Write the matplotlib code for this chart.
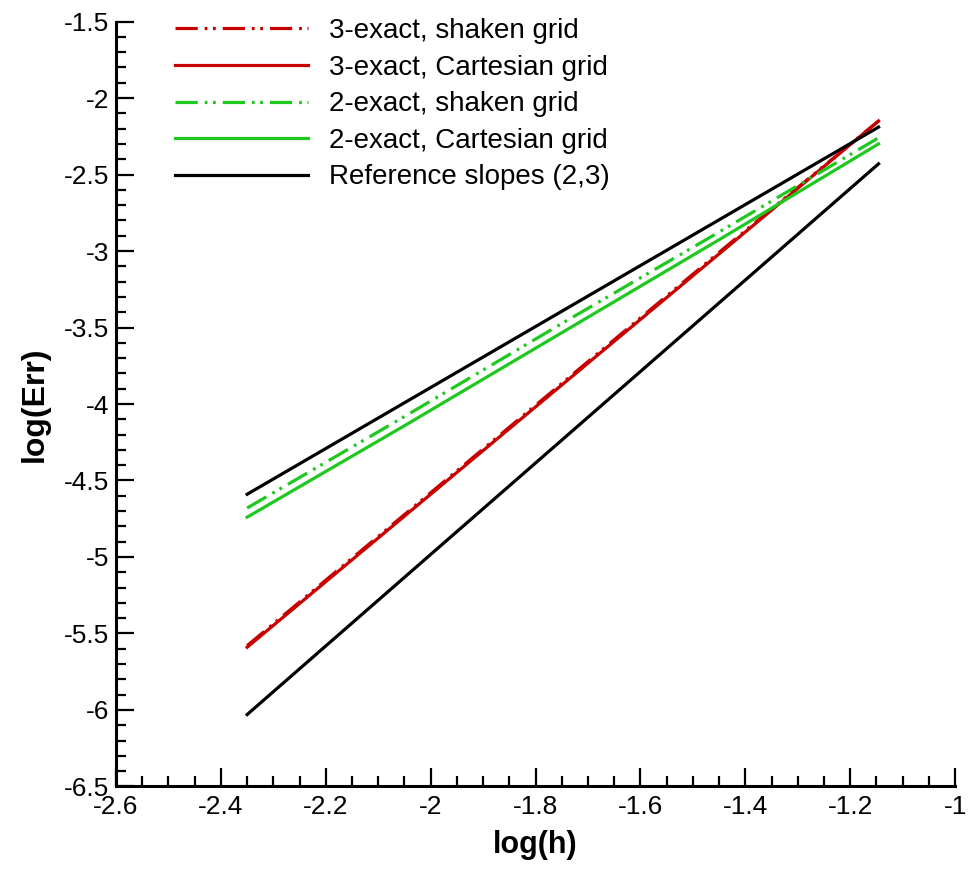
import numpy as np
import matplotlib.pyplot as plt
from matplotlib.ticker import MultipleLocator

# log10 of mesh size h = 1/14 ... 1/224
log_h = [-2.350, -2.049, -1.748, -1.447, -1.146]

# log10 of error
err_3_shaken = [-5.58, -4.72, -3.86, -3.00, -2.15]
err_3_cart   = [-5.59, -4.73, -3.87, -3.01, -2.15]
err_2_shaken = [-4.68, -4.08, -3.47, -2.87, -2.26]
err_2_cart   = [-4.74, -4.14, -3.53, -2.92, -2.30]

# reference slope lines (end points)
ref_x       = [-2.350, -1.146]
ref_slope2  = [-4.59, -2.19]
ref_slope3  = [-6.03, -2.43]

plt.rcParams['font.family'] = ['Liberation Sans', 'DejaVu Sans']
plt.rcParams['lines.scale_dashes'] = False

red = "#c80000"
green = "#1ec81e"
dashdotdot = (0, (16, 5, 2, 4, 2, 5))

fig = plt.figure(figsize=(9.69, 8.82), dpi=100)
ax = fig.add_axes([0.1197, 0.1083, 0.8660, 0.8673])

lw = 2.3
ax.plot(log_h, err_3_shaken, color=red, lw=lw, linestyle=dashdotdot,
        label="3-exact, shaken grid")
ax.plot(log_h, err_3_cart, color=red, lw=lw, label="3-exact, Cartesian grid")
ax.plot(log_h, err_2_shaken, color=green, lw=lw, linestyle=dashdotdot,
        label="2-exact, shaken grid")
ax.plot(log_h, err_2_cart, color=green, lw=lw, label="2-exact, Cartesian grid")
ax.plot(ref_x, ref_slope2, color="black", lw=lw, label="Reference slopes (2,3)")
ax.plot(ref_x, ref_slope3, color="black", lw=lw)

ax.set_xlim(-2.6, -1.0)
ax.set_ylim(-6.5, -1.5)
ax.xaxis.set_major_locator(MultipleLocator(0.2))
ax.xaxis.set_minor_locator(MultipleLocator(0.05))
ax.yaxis.set_major_locator(MultipleLocator(0.5))
ax.yaxis.set_minor_locator(MultipleLocator(0.1))
ax.xaxis.set_major_formatter(plt.FuncFormatter(lambda v, p: f"{v:g}"))
ax.yaxis.set_major_formatter(plt.FuncFormatter(lambda v, p: f"{v:g}"))

for s in ["top", "right"]:
    ax.spines[s].set_visible(False)
for s in ["left", "bottom"]:
    ax.spines[s].set_linewidth(2.2)

ax.tick_params(which="both", direction="in", top=False, right=False,
               labelsize=19, width=1.6)
ax.tick_params(which="major", length=13)
ax.tick_params(axis="y", which="major", pad=5)
ax.tick_params(axis="x", which="major", pad=6)
ax.tick_params(which="minor", length=7.5)

ax.set_xlabel("log(h)", fontsize=22, fontweight="bold", labelpad=8)
ax.set_ylabel("log(Err)", fontsize=23, fontweight="bold", labelpad=10)

ax.legend(loc="upper left", bbox_to_anchor=(0.04, 1.037), frameon=False,
          fontsize=20, handlelength=4.8, handletextpad=0.75, labelspacing=0.38)

fig.savefig("out.png", dpi=100)
